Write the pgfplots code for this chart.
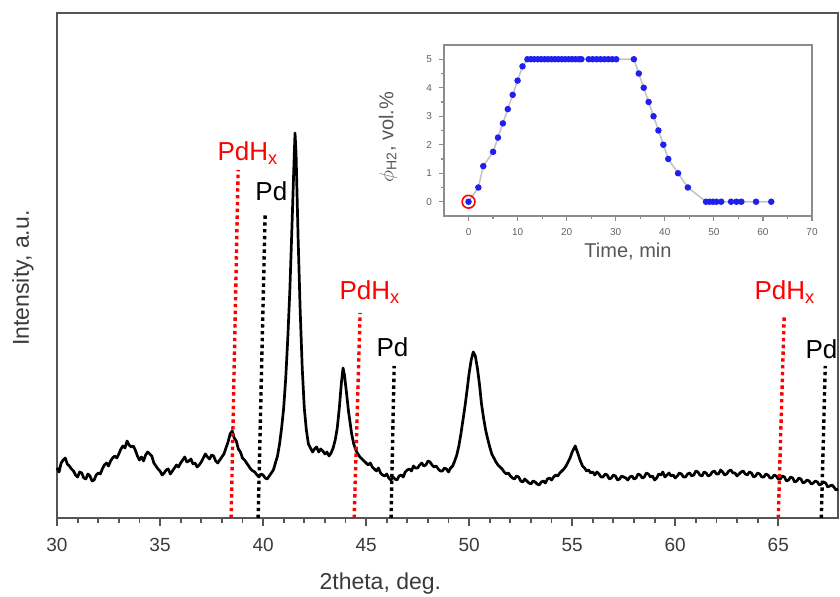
\documentclass[border=0pt]{standalone}
\usepackage{pgfplots}
\pgfplotsset{compat=1.18}
\usepackage{fontspec}
\setmainfont{Liberation Sans}
\definecolor{framegray}{HTML}{555555}
\definecolor{ticktext}{HTML}{3A3A3A}
\definecolor{insetgray}{HTML}{8C8C8C}
\definecolor{linegray}{HTML}{C4C4C4}
\definecolor{dotblue}{HTML}{1F1FF0}

% XRD pattern: 2theta (deg) vs intensity (a.u.)
\pgfplotstableread{
x y
30.0 50
30.1 46
30.2 55
30.3 58
30.4 60
30.5 54
30.6 52
30.7 49
30.8 47
30.9 43
31.0 41
31.1 46
31.2 45
31.3 40
31.4 39
31.5 44
31.6 42
31.7 37
31.8 38
31.9 43
32.0 45
32.1 44
32.2 49
32.3 53
32.4 55
32.5 52
32.6 57
32.7 60
32.8 62
32.9 60
33.0 64
33.1 69
33.2 72
33.3 70
33.4 77
33.5 73
33.6 71
33.7 72
33.8 68
33.9 62
34.0 58
34.1 61
34.2 57
34.3 63
34.4 66
34.5 64
34.6 62
34.7 55
34.8 52
34.9 49
35.0 47
35.1 43
35.2 45
35.3 48
35.4 49
35.5 44
35.6 47
35.7 50
35.8 53
35.9 51
36.0 55
36.1 58
36.2 61
36.3 56
36.4 57
36.5 59
36.6 54
36.7 55
36.8 51
36.9 53
37.0 56
37.1 60
37.2 64
37.3 61
37.4 59
37.5 63
37.6 62
37.7 57
37.8 55
37.9 58
38.0 61
38.1 64
38.2 70
38.3 76
38.4 84
38.5 87
38.6 80
38.7 77
38.8 69
38.9 66
39.0 60
39.1 58
39.2 55
39.3 52
39.4 49
39.5 47
39.6 46
39.7 43
39.8 41
39.9 44
40.0 43
40.1 40
40.2 39
40.3 42
40.4 45
40.5 48
40.6 55
40.7 62
40.8 74
40.9 90
41.0 110
41.1 140
41.2 180
41.3 228
41.4 290
41.5 355
41.55 385
41.6 365
41.7 280
41.8 208
41.9 150
42.0 110
42.1 88
42.2 74
42.3 70
42.4 66
42.5 69
42.6 71
42.7 66
42.8 69
42.9 67
43.0 64
43.1 66
43.2 62
43.3 65
43.4 70
43.5 78
43.6 90
43.7 110
43.8 135
43.88 150
43.95 143
44.05 125
44.15 106
44.3 84
44.4 74
44.5 68
44.6 64
44.7 61
44.8 59
44.9 57
45.0 55
45.1 53
45.2 55
45.3 51
45.4 49
45.5 47
45.6 50
45.7 45
45.8 43
45.9 42
46.0 44
46.1 40
46.2 38
46.3 41
46.4 39
46.5 38
46.6 42
46.7 43
46.8 41
46.9 46
47.0 48
47.1 49
47.2 47
47.3 52
47.4 50
47.5 50
47.6 53
47.7 55
47.8 52
47.9 53
48.0 57
48.1 56
48.2 53
48.3 51
48.4 52
48.5 49
48.6 47
48.7 47
48.8 50
48.9 49
49.0 46
49.1 50
49.2 52
49.3 57
49.4 63
49.5 72
49.6 84
49.7 98
49.8 112
49.9 128
50.0 145
50.1 158
50.2 166
50.3 162
50.4 150
50.5 134
50.6 114
50.7 100
50.8 88
50.9 79
51.0 71
51.1 64
51.2 60
51.3 56
51.4 53
51.5 51
51.6 49
51.7 46
51.8 44
51.9 45
52.0 42
52.1 40
52.2 39
52.3 42
52.4 41
52.5 37
52.6 36
52.7 39
52.8 37
52.9 35
53.0 34
53.1 37
53.2 36
53.3 34
53.4 33
53.5 36
53.6 37
53.7 35
53.8 39
53.9 40
54.0 38
54.1 41
54.2 43
54.3 42
54.4 45
54.5 47
54.6 49
54.7 52
54.8 56
54.9 60
55.0 66
55.15 72
55.3 63
55.4 57
55.5 52
55.6 50
55.7 47
55.8 48
55.9 45
56.0 46
56.1 43
56.2 46
56.3 44
56.4 41
56.5 41
56.6 44
56.7 43
56.8 39
56.9 40
57.0 43
57.1 42
57.2 38
57.3 39
57.4 42
57.5 41
57.6 40
57.7 38
57.8 41
57.9 42
58.0 39
58.1 40
58.2 44
58.3 43
58.4 40
58.5 41
58.6 45
58.7 44
58.8 41
58.9 42
59.0 38
59.1 40
59.2 44
59.3 43
59.4 46
59.5 41
59.6 43
59.7 45
59.8 42
59.9 43
60.0 40
60.1 42
60.2 45
60.3 44
60.4 41
60.5 41
60.6 44
60.7 45
60.8 42
60.9 43
61.0 47
61.1 46
61.2 43
61.3 42
61.4 46
61.5 45
61.6 42
61.7 43
61.8 46
61.9 47
62.0 44
62.1 44
62.2 48
62.3 46
62.4 43
62.5 44
62.6 47
62.7 48
62.8 45
62.9 45
63.0 42
63.1 44
63.2 46
63.3 47
63.4 44
63.5 43
63.6 46
63.7 45
63.8 41
63.9 42
64.0 45
64.1 44
64.2 41
64.3 41
64.4 44
64.5 43
64.6 40
64.7 40
64.8 43
64.9 42
65.0 39
65.1 39
65.2 42
65.3 41
65.4 37
65.5 38
65.6 41
65.7 40
65.8 36
65.9 37
66.0 40
66.1 39
66.2 35
66.3 36
66.4 38
66.5 37
66.6 34
66.7 35
66.8 37
66.9 36
67.0 33
67.1 34
67.2 36
67.3 35
67.4 31
67.5 32
67.6 33
67.7 31
67.8 28
67.9 29
}\xrd

% hydrogen content in the gas flow vs time
\pgfplotstableread{
t phi
0 0
2 0.5
3 1.25
5 1.75
6 2.25
7 2.75
8 3.25
9 3.75
10 4.25
11 4.75
12 5
12.7 5
13.4 5
14.1 5
14.8 5
15.5 5
16.2 5
16.9 5
17.6 5
18.3 5
19.0 5
19.7 5
20.4 5
21.1 5
21.8 5
22.5 5
23.0 5
24.5 5
25.3 5
26.1 5
26.9 5
27.7 5
28.5 5
29.3 5
30.1 5
33.7 5
34.7 4.5
35.7 4.0
36.7 3.5
37.7 3.0
38.7 2.5
39.7 2.0
40.7 1.5
42.7 1.0
44.7 0.5
48.4 0
49.1 0
49.8 0
50.5 0
51.5 0
53.5 0
54.6 0
55.6 0
58.6 0
61.7 0
}\gasflow

\begin{document}
\begin{tikzpicture}
\useasboundingbox (0,0) rectangle (420pt,298.5pt);

\begin{axis}[
  at={(28.5pt,39.5pt)}, anchor=south west,
  scale only axis, width=390.5pt, height=252.5pt,
  xmin=30, xmax=67.9, ymin=0, ymax=505,
  axis line style={framegray, line width=1.3pt},
  xtick={30,35,...,65}, minor x tick num=4,
  xtick pos=bottom, ytick=\empty,
  tick align=outside,
  major tick length=4pt, minor tick length=2.5pt,
  tick style={framegray, line width=0.9pt},
  xticklabel style={font=\fontsize{9.5}{10}\selectfont, text=ticktext, yshift=-2.5pt},
  /pgf/number format/assume math mode=true,
  xlabel={2theta, deg.},
  ylabel={Intensity, a.u.},
  label style={font=\fontsize{11.5}{12}\selectfont, text=ticktext},
  xlabel style={at={(axis description cs:0.414,-0.129)}, anchor=center},
  ylabel style={at={(axis description cs:-0.0435,0.475)}, anchor=center},
  clip=false,
]
  \addplot[black, line width=1.35pt, line join=round] table[x=x, y=y] {\xrd};

  % reference positions of PdHx (red) and Pd (black) reflections
  \addplot[red, line width=1.7pt, dash pattern=on 1.7pt off 1.7pt] coordinates {(38.45,0) (38.79,348)};
  \addplot[black, line width=1.7pt, dash pattern=on 1.7pt off 1.7pt] coordinates {(39.76,0) (40.10,303)};
  \addplot[red, line width=1.7pt, dash pattern=on 1.7pt off 1.7pt] coordinates {(44.42,0) (44.71,205)};
  \addplot[black, line width=1.7pt, dash pattern=on 1.7pt off 1.7pt] coordinates {(46.21,0) (46.36,152)};
  \addplot[red, line width=1.7pt, dash pattern=on 1.7pt off 1.7pt] coordinates {(65.00,0) (65.29,203)};
  \addplot[black, line width=1.7pt, dash pattern=on 1.7pt off 1.7pt] coordinates {(67.09,0) (67.28,152)};

  \begin{scope}[font=\fontsize{13}{14}\selectfont, inner sep=0pt]
    \node[anchor=base west, text=red] at (axis cs:37.77,357) {PdH\textsubscript{x}};
    \node[anchor=base west] at (axis cs:39.61,317) {Pd};
    \node[anchor=base west, text=red] at (axis cs:43.69,218) {PdH\textsubscript{x}};
    \node[anchor=base west] at (axis cs:45.49,161) {Pd};
    \node[anchor=base west, text=red] at (axis cs:63.83,218) {PdH\textsubscript{x}};
    \node[anchor=base west] at (axis cs:66.31,159) {Pd};
  \end{scope}
\end{axis}

% inset: gas composition programme
\begin{axis}[
  at={(222pt,190.5pt)}, anchor=south west,
  scale only axis, width=184pt, height=85.5pt,
  xmin=-5, xmax=70, ymin=-0.5, ymax=5.5,
  axis line style={insetgray, line width=0.9pt},
  xtick={0,10,...,70}, minor x tick num=1,
  ytick={0,...,5}, minor y tick num=1,
  tick pos=left, tick align=outside,
  major tick length=2.5pt, minor tick length=1.5pt,
  tick style={insetgray, line width=0.6pt},
  tick label style={font=\fontsize{5}{6}\selectfont, text=ticktext!80},
  /pgf/number format/assume math mode=true,
  xlabel={Time, min},
  ylabel={$\phi_{\mathrm{H2}}$, vol.\%},
  label style={font=\fontsize{10}{11}\selectfont, text=ticktext!85},
  xlabel style={at={(axis description cs:0.5,-0.21)}, anchor=center},
  ylabel style={at={(axis description cs:-0.152,0.46)}, anchor=center},
]
  \addplot[linegray, line width=0.8pt, mark=*, mark size=1.2pt,
    mark options={draw=dotblue, fill=dotblue}] table[x=t, y=phi] {\gasflow};
  \addplot[red, only marks, mark=o, mark size=3.2pt, mark options={line width=0.8pt}] coordinates {(0,0)};
\end{axis}
\end{tikzpicture}
\end{document}
